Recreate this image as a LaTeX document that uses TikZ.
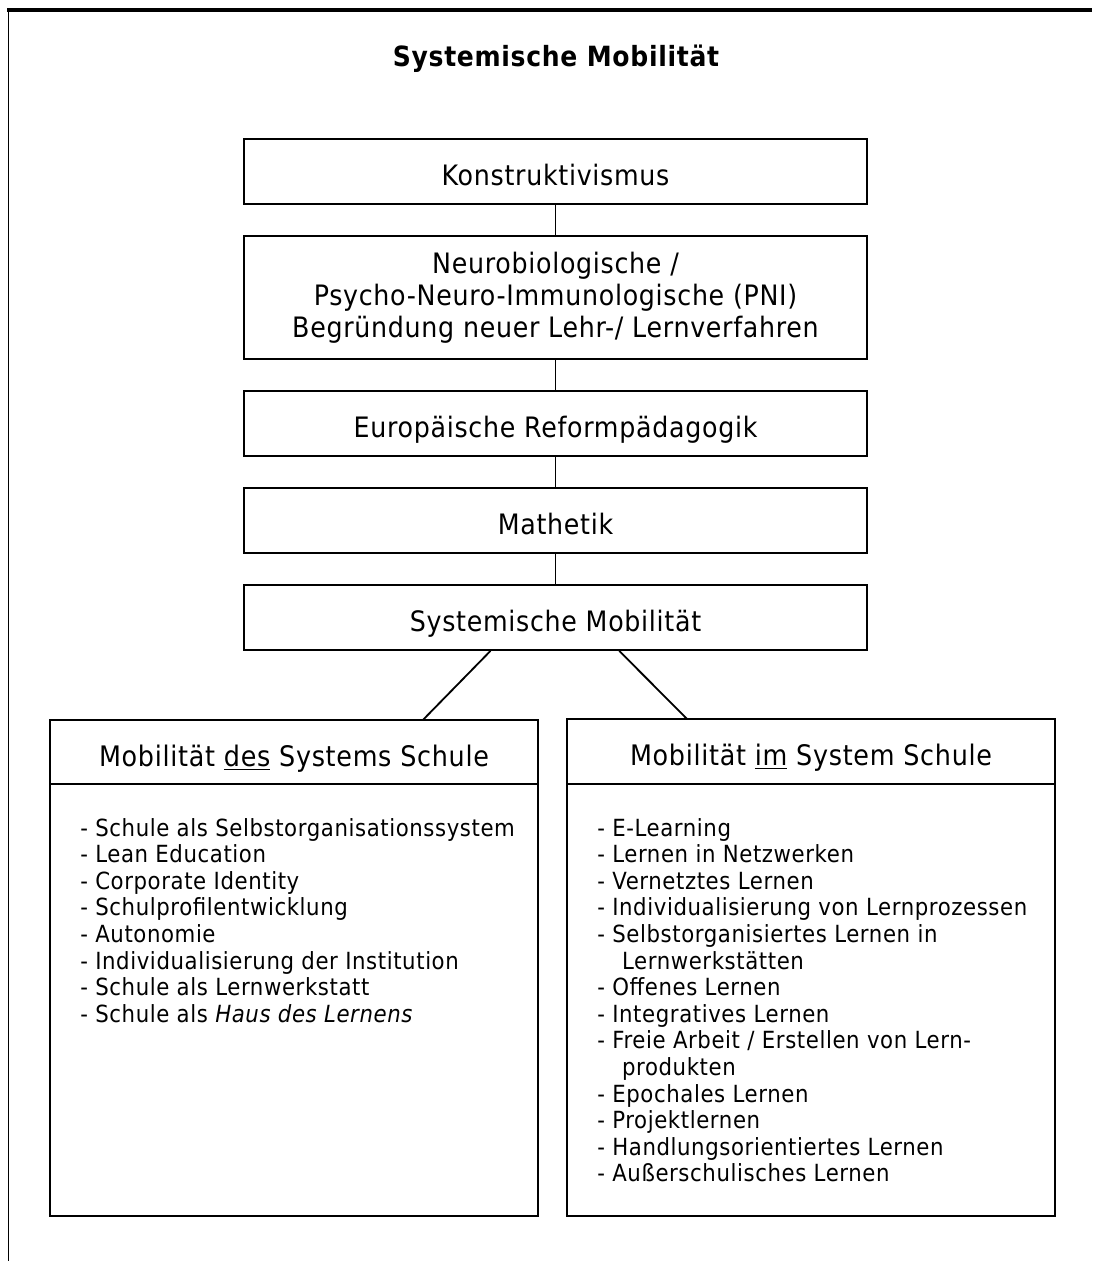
\documentclass[tikz,border=0pt]{standalone}
\usepackage{fontspec}
\setmainfont[FakeStretch=0.9, LetterSpace=2.5]{DejaVu Sans}
\usetikzlibrary{positioning, calc}
\tikzstyle{box} = [rectangle, 
minimum width=15.575cm, 
minimum height=1.625cm,
align=center, 
draw=black, 
line width=1.2pt,
font=\fontsize{20}{22.7}\selectfont]
\tikzstyle{onebox} = [box, text height=20.6pt, text depth=0pt]
\tikzstyle{half} = [rectangle, minimum width=12.2cm, draw=black, line width=1.2pt, outer sep=0pt]
\tikzstyle{liste} = [align=left, anchor=north west, inner sep=0pt, font=\fontsize{16.8}{18.9}\selectfont]
\tikzstyle{line} = [line width=1.3pt]

\begin{document}
\begin{tikzpicture}[x=0.025cm, y=-0.025cm]
		
		% canvas
		\useasboundingbox (0,0) rectangle (1092,1261);
		\draw[line width=2.8pt] (7,10) -- (1092,10);
		\draw[line width=1.4pt] (8.5,10) -- (8.5,1261);
		
		% title
		\node[font=\fontsize{19.8}{22}\selectfont\bfseries] (title) at (556,59) {Systemische Mobilität};
		
		% chain of boxes
		\node[onebox] (konst) at (555.5,171.5) {Konstruktivismus};
		\node[box, minimum height=3.075cm] (neuro) at (555.5,297.5) {Neurobiologische /\\
			Psycho-Neuro-Immunologische (PNI)\\
			Begründung neuer Lehr-/ Lernverfahren};
		\node[onebox] (reform) at (555.5,423.5) {Europäische Reformpädagogik};
		\node[onebox] (mathetik) at (555.5,520.5) {Mathetik};
		\node[onebox] (sysmob) at (555.5,617.5) {Systemische Mobilität};
		
		\foreach \a/\b in {konst/neuro, neuro/reform, reform/mathetik, mathetik/sysmob}
			\draw[line] (\a) -- (\b);
		
		% left column
		\node[half, minimum height=1.6cm, text height=20.6pt, text depth=0pt, font=\fontsize{20.1}{22}\selectfont] (deshead) at (294,752) {Mobilität \underline{des} Systems Schule};
		\node[half, minimum height=10.8cm, below=0pt of deshead] (desbody) {};
		\node[liste] (deslist) at (80,818) {
			- Schule als Selbstorganisationssystem\\
			- Lean Education\\
			- Corporate Identity\\
			- Schulprofilentwicklung\\
			- Autonomie\\
			- Individualisierung der Institution\\
			- Schule als Lernwerkstatt\\
			- Schule als \textit{Haus des Lernens}
		};
		
		% right column
		\node[half, minimum height=1.625cm, text height=20.6pt, text depth=0pt, font=\fontsize{20.1}{22}\selectfont] (imhead) at (811,751.5) {Mobilität \underline{im} System Schule};
		\node[half, minimum height=10.8cm, below=0pt of imhead] (imbody) {};
		\node[liste] (imlist) at (597,818) {
			- E-Learning\\
			- Lernen in Netzwerken\\
			- Vernetztes Lernen\\
			- Individualisierung von Lernprozessen\\
			- Selbstorganisiertes Lernen in\\
			\hspace*{1.05em}Lernwerkstätten\\
			- Offenes Lernen\\
			- Integratives Lernen\\
			- Freie Arbeit / Erstellen von Lern-\\
			\hspace*{1.05em}produkten\\
			- Epochales Lernen\\
			- Projektlernen\\
			- Handlungsorientiertes Lernen\\
			- Außerschulisches Lernen
		};
		
		% branches
		\draw[line] ($(sysmob.south west)!0.396!(sysmob.south east)$) -- ($(deshead.north west)!0.764!(deshead.north east)$);
		\draw[line] ($(sysmob.south west)!0.602!(sysmob.south east)$) -- ($(imhead.north west)!0.246!(imhead.north east)$);
		
	\end{tikzpicture}
\end{document}
